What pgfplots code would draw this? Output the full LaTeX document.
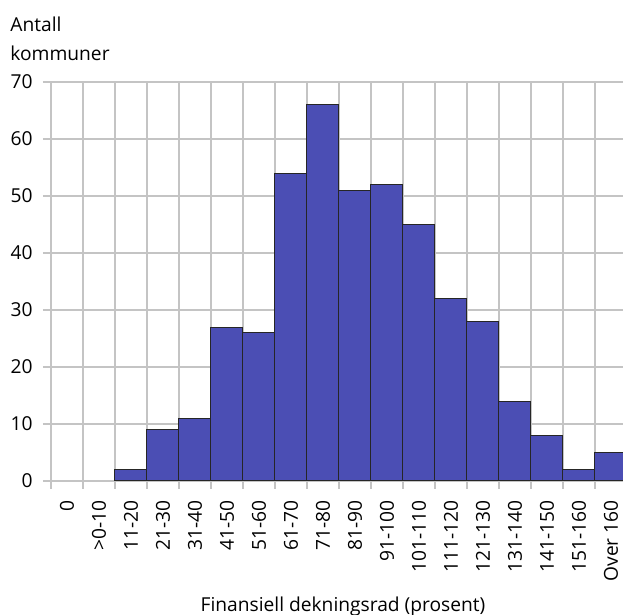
\documentclass[border=0pt]{standalone}
\usepackage{fontspec}
\setmainfont{Open Sans}
\usepackage{pgfplots}
\pgfplotsset{compat=1.18}

\definecolor{barblue}{HTML}{4B4EB4}
\definecolor{gridgrey}{HTML}{C4C4C4}

\begin{document}
\fontsize{9.6}{11.5}\selectfont
\begin{tikzpicture}
  % 1 px of the reference = 0.5pt
  \useasboundingbox (-25.5pt,-67pt) rectangle (286pt,240.5pt);
  \begin{axis}[
    at={(0,0)}, anchor=south west,
    scale only axis,
    width=286pt, height=199.5pt,
    xmin=-0.5, xmax=17.375,
    ymin=0, ymax=70,
    ytick={0,10,...,70},
    xtick={0,...,17},
    xticklabels={0,>0-10,11-20,21-30,31-40,41-50,51-60,61-70,71-80,81-90,
      91-100,101-110,111-120,121-130,131-140,141-150,151-160,Over 160},
    minor xtick={-0.5,0.5,...,17.5},
    xtick pos=bottom, ytick pos=left,
    tick align=outside,
    major x tick style={draw=none},
    minor tick length=4pt,
    major tick length=4pt,
    tick style={draw=gridgrey, line width=1pt},
    ymajorgrids, xminorgrids,
    grid style={draw=gridgrey, line width=1pt},
    minor grid style={draw=gridgrey, line width=1pt},
    axis line style={draw=none},
    xticklabel style={yshift=-5.5pt, rotate=90, anchor=east, inner sep=0pt},
    yticklabel style={anchor=east, inner sep=0pt, xshift=-5pt},
    /pgf/number format/assume math mode=true,
    xlabel={Finansiell dekningsrad (prosent)},
    xlabel style={at={(axis description cs:0.5,0)}, anchor=north, inner sep=0pt, yshift=-58pt, xshift=3pt},
    ybar, bar width=1, bar shift=0pt,
  ]
    \addplot[fill=barblue, draw=black!85, line width=0.5pt] coordinates {
      (2,2) (3,9) (4,11) (5,27) (6,26) (7,54) (8,66) (9,51) (10,52)
      (11,45) (12,32) (13,28) (14,14) (15,8) (16,2) (17,5)
    };
  \end{axis}
  \node[anchor=base west, inner sep=0pt] at (-20.5pt,224.5pt) {Antall};
  \node[anchor=base west, inner sep=0pt] at (-20.5pt,210pt) {kommuner};
\end{tikzpicture}
\end{document}
